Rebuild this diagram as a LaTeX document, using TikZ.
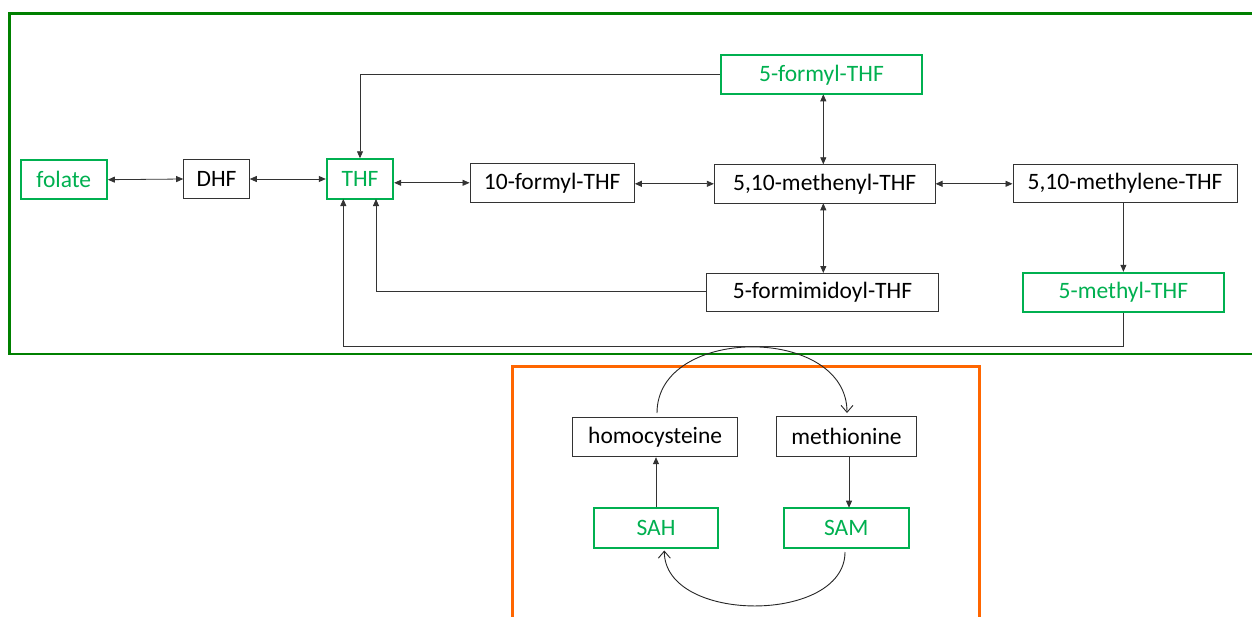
\documentclass[tikz,border=0pt]{standalone}
\usepackage{fontspec}
\setmainfont{Carlito}
\usetikzlibrary{arrows.meta}
\definecolor{boxgreen}{RGB}{0,176,80}
\definecolor{framegreen}{RGB}{0,128,0}
\definecolor{frameorange}{RGB}{255,102,0}
\tikzset{
  plainbox/.style={draw=black!80, line width=1pt, inner sep=0pt, fill=white,
    font=\fontsize{23.5}{28}\selectfont, text=black},
  greenbox/.style={draw=boxgreen, line width=1.8pt, inner sep=0pt, fill=white,
    font=\fontsize{23.5}{28}\selectfont, text=boxgreen},
  link/.style={draw=black!80, line width=0.8pt},
  onehead/.style={link, -{Triangle[length=7pt,width=6pt]}},
  twohead/.style={link, {Triangle[length=7pt,width=6pt]}-{Triangle[length=7pt,width=6pt]}},
  cyclearc/.style={draw=black!85, line width=0.9pt, -{Straight Barb[length=7pt,width=12pt]}},
  frame/.style={line width=2.8pt}
}
\begin{document}
\begin{tikzpicture}[x=1pt, y=-1pt]
\clip (0,0) rectangle (1252,616);
\fill[white] (0,0) rectangle (1252,616);

% compartments
\draw[frame, framegreen] (9.5,13.5) rectangle (1270,354);
\draw[frame, frameorange] (512.5,366.5) rectangle (979.5,640);

% folate cycle
\node[greenbox, minimum width=86.3pt, minimum height=39.3pt] (folate) at (63.8,179.7) {folate};
\node[plainbox, minimum width=65.6pt, minimum height=39.4pt] (dhf) at (216.5,179) {DHF};
\node[greenbox, minimum width=66.6pt, minimum height=39.7pt] (thf) at (360,179) {THF};
\node[plainbox, minimum width=164.3pt, minimum height=39pt] (f10) at (552.2,182.8) {10-formyl-THF};
\node[plainbox, minimum width=220.7pt, minimum height=39pt] (methenyl) at (824.7,183.8) {5,10-methenyl-THF};
\node[plainbox, minimum width=224pt, minimum height=38.4pt] (methylene) at (1125,183.5) {5,10-methylene-THF};
\node[greenbox, minimum width=201.6pt, minimum height=39pt] (f5) at (821.5,74.8) {5-formyl-THF};
\node[plainbox, minimum width=231.6pt, minimum height=38pt] (fim) at (822.5,292) {5-formimidoyl-THF};
\node[greenbox, minimum width=201.3pt, minimum height=39.6pt] (methyl) at (1123.4,292.5) {5-methyl-THF};

% methionine cycle
\node[plainbox, minimum width=165pt, minimum height=39.4pt] (hcy) at (655.2,437) {homocysteine};
\node[plainbox, minimum width=139.6pt, minimum height=39.3pt] (met) at (846.5,436.4) {methionine};
\node[greenbox, minimum width=124.6pt, minimum height=40pt] (sah) at (656,527.7) {SAH};
\node[greenbox, minimum width=125pt, minimum height=40pt] (sam) at (846.2,527.7) {SAM};

% bend points of the return lines into THF
\coordinate (f5turn) at (360,74.3);
\coordinate (fimturn) at (376,291);
\coordinate (fimin) at (376,199);
\coordinate (mdown) at (1123.4,346.7);
\coordinate (mleft) at (343.3,346.7);
\coordinate (min) at (343.3,199);

% reversible steps
\draw[twohead] (folate.east) -- (dhf.west);
\draw[twohead] (dhf.east) -- (thf.west);
\draw[twohead] (thf.east |- f10.west) -- (f10.west);
\draw[twohead] (f10.east |- methenyl.west) -- (methenyl.west);
\draw[twohead] (methenyl.east) -- (methylene.west |- methenyl.east);
\draw[twohead] (823.3,94.3) -- (823.3,164.3);
\draw[twohead] (823.3,203.3) -- (823.3,273);

% one-way steps
\draw[onehead] (f5.west |- f5turn) -- (f5turn) -- (thf.north);
\draw[onehead] (fim.west |- fimturn) -- (fimturn) -- (fimin);
\draw[onehead] (methylene.south -| methyl.north) -- (methyl.north);
\draw[onehead] (methyl.south) -- (mdown) -- (mleft) -- (min);
\draw[onehead] (sah.north) -- (sah.north |- hcy.south);
\draw[onehead] (849,456) -- (849,507.7);

% cycle arcs
\coordinate (hcytop) at (657,413);
\coordinate (mettop) at (847,413);
\coordinate (sambot) at (845,552);
\coordinate (sahbot) at (664.3,550.5);
\draw[cyclearc] (hcytop) .. controls (657,325) and (847,325) .. (mettop);
\draw[cyclearc] (sambot) .. controls (845,624) and (664.3,624) .. (sahbot);
\end{tikzpicture}
\end{document}
